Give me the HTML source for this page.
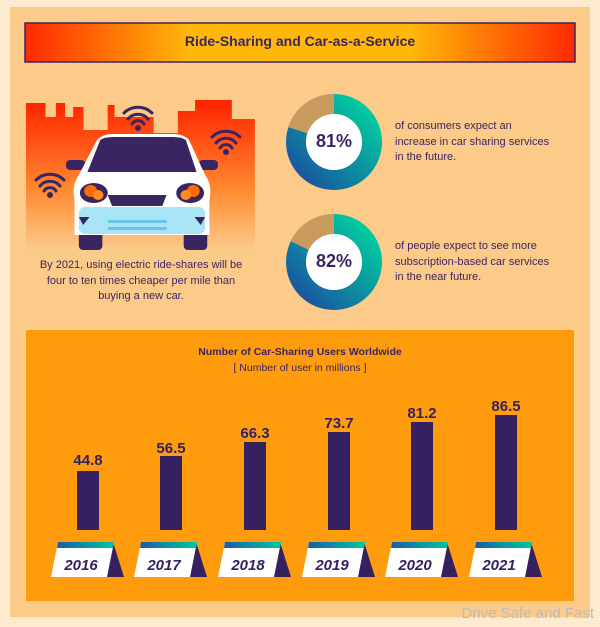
<!DOCTYPE html>
<html><head><style>
body{margin:0;width:600px;height:627px;background:#fdebd0;font-family:"Liberation Sans",sans-serif;overflow:hidden;position:relative}
.t{position:absolute;color:#3a2563}
</style></head><body>
<svg width="600" height="627" style="position:absolute;left:0;top:0">
<defs>
<linearGradient id="tb" x1="0" x2="1"><stop offset="0" stop-color="#ff2a00"/><stop offset=".3" stop-color="#ffb80a"/><stop offset=".7" stop-color="#ffb80a"/><stop offset="1" stop-color="#ff2a00"/></linearGradient>
<linearGradient id="sky" x1="0" y1="0" x2="0" y2="1"><stop offset="0" stop-color="#ff2200"/><stop offset=".6" stop-color="#ff8a30"/><stop offset="1" stop-color="#fccb8a"/></linearGradient>
<linearGradient id="dn" x1="0" y1="1" x2="1" y2="0"><stop offset="0" stop-color="#1a4fa0"/><stop offset="1" stop-color="#00d4a0"/></linearGradient>
<linearGradient id="cal2" x1="0" x2="1"><stop offset="0" stop-color="#1a5aa8"/><stop offset="1" stop-color="#00c8a0"/></linearGradient>
</defs>
<rect x="10" y="7" width="580" height="610" fill="#fccb8a"/>
<rect x="25" y="23" width="550" height="39" fill="url(#tb)" stroke="#3a2563" stroke-width="1.5"/>
<g transform="translate(26,0) scale(1.15,1) translate(-23,0)">
<path d="M23 103H40V117H49V103H57V117H64V107H73V130H94V105H100V117H134V133H155V111H170V100H202V119H222V250H23Z" fill="url(#sky)"/>
</g>
<g transform="translate(66,0) scale(1.07,1) translate(-56,0)">
<rect x="68" y="215" width="22" height="35" rx="4" fill="#3a2563"/>
<rect x="166" y="215" width="22" height="35" rx="4" fill="#3a2563"/>
<rect x="56" y="160" width="18" height="10" rx="4" fill="#3a2563"/>
<rect x="180" y="160" width="18" height="10" rx="4" fill="#3a2563"/>
<path d="M85 140Q90 134 100 134H156Q166 134 171 140L186 175Q193 185 190 200V235H64V200Q61 185 68 175Z" fill="#fff"/>
<path d="M88 140Q92 137 100 137H156Q164 137 168 140L178 172H76Z" fill="#3a2563"/>
<rect x="68" y="207" width="118" height="27" rx="6" fill="#a9e4f7"/>
<rect x="95" y="220" width="55" height="3" fill="#6cc4e8"/><rect x="95" y="227" width="55" height="3" fill="#6cc4e8"/>
<path d="M95 195H150L146 206H99Z" fill="#3a2563"/>
<path d="M68 217L78 217L72 225Z" fill="#3a2563"/><path d="M186 217L176 217L182 225Z" fill="#3a2563"/>
<ellipse cx="82" cy="193" rx="13" ry="10" fill="#3a2563"/><circle cx="79" cy="191" r="6" fill="#ff6a00"/><circle cx="86" cy="195" r="5" fill="#ff8a20"/>
<ellipse cx="172" cy="193" rx="13" ry="10" fill="#3a2563"/><circle cx="175" cy="191" r="6" fill="#ff6a00"/><circle cx="168" cy="195" r="5" fill="#ff8a20"/>
</g>
<g fill="none" stroke="#3a2563" stroke-width="3" stroke-linecap="round">
<path d="M124 113A20 20 0 0 1 152 113M128 119A13 13 0 0 1 148 119M132 124A7 7 0 0 1 144 124"/>
<path d="M212 137A20 20 0 0 1 240 137M216 143A13 13 0 0 1 236 143M220 148A7 7 0 0 1 232 148"/>
<path d="M36 180A20 20 0 0 1 64 180M40 186A13 13 0 0 1 60 186M44 191A7 7 0 0 1 56 191"/>
</g>
<circle cx="138" cy="128" r="3" fill="#3a2563"/><circle cx="226" cy="152" r="3" fill="#3a2563"/><circle cx="50" cy="195" r="3" fill="#3a2563"/>
<g transform="translate(334,142)"><circle r="38" fill="none" stroke="url(#dn)" stroke-width="20"/><path d="M0 -48A48 48 0 0 0 -45.6 -14.8L-26.6 -8.6A28 28 0 0 1 0 -28Z" fill="#c99a5e"/><circle r="28" fill="#fff"/></g>
<g transform="translate(334,262)"><circle r="38" fill="none" stroke="url(#dn)" stroke-width="20"/><path d="M0 -48A48 48 0 0 0 -43.3 -20.7L-25.3 -12.1A28 28 0 0 1 0 -28Z" fill="#c99a5e"/><circle r="28" fill="#fff"/></g>
<rect x="26" y="330" width="548" height="271" fill="#ff9c0e"/>
<g fill="#352060">
<rect x="77" y="471" width="22" height="59"/><rect x="160" y="456" width="22" height="74"/><rect x="244" y="442" width="22" height="88"/>
<rect x="328" y="432" width="22" height="98"/><rect x="411" y="422" width="22" height="108"/><rect x="495" y="415" width="22" height="115"/>
</g>
<g font-family="Liberation Sans" font-weight="bold" font-size="15" fill="#352060" text-anchor="middle">
<text x="88" y="465">44.8</text><text x="171" y="453">56.5</text><text x="255" y="438">66.3</text>
<text x="339" y="428">73.7</text><text x="422" y="418">81.2</text><text x="506" y="411">86.5</text>
</g>
<g font-family="Liberation Sans" font-weight="bold" font-style="italic" font-size="15" fill="#352060" text-anchor="middle">
<g transform="translate(51,0)"><path d="M57 542H62L73 577H55Z" fill="#352060"/><path d="M7 542H63L56 577H0Z" fill="#fff"/><path d="M7 542H63L62 548H6Z" fill="url(#cal2)"/><text x="30" y="570">2016</text></g>
<g transform="translate(134,0)"><path d="M57 542H62L73 577H55Z" fill="#352060"/><path d="M7 542H63L56 577H0Z" fill="#fff"/><path d="M7 542H63L62 548H6Z" fill="url(#cal2)"/><text x="30" y="570">2017</text></g>
<g transform="translate(218,0)"><path d="M57 542H62L73 577H55Z" fill="#352060"/><path d="M7 542H63L56 577H0Z" fill="#fff"/><path d="M7 542H63L62 548H6Z" fill="url(#cal2)"/><text x="30" y="570">2018</text></g>
<g transform="translate(302,0)"><path d="M57 542H62L73 577H55Z" fill="#352060"/><path d="M7 542H63L56 577H0Z" fill="#fff"/><path d="M7 542H63L62 548H6Z" fill="url(#cal2)"/><text x="30" y="570">2019</text></g>
<g transform="translate(385,0)"><path d="M57 542H62L73 577H55Z" fill="#352060"/><path d="M7 542H63L56 577H0Z" fill="#fff"/><path d="M7 542H63L62 548H6Z" fill="url(#cal2)"/><text x="30" y="570">2020</text></g>
<g transform="translate(469,0)"><path d="M57 542H62L73 577H55Z" fill="#352060"/><path d="M7 542H63L56 577H0Z" fill="#fff"/><path d="M7 542H63L62 548H6Z" fill="url(#cal2)"/><text x="30" y="570">2021</text></g>
</g>
</svg>
<div class="t" style="left:25px;top:33px;width:550px;text-align:center;font-weight:bold;font-size:14px">Ride-Sharing and Car-as-a-Service</div>
<div class="t" style="left:18px;top:258px;width:246px;text-align:center;font-size:11px;line-height:15.5px">By 2021, using electric ride-shares will be<br>four to ten times cheaper per mile than<br>buying a new car.</div>
<div class="t" style="left:309px;top:131px;width:50px;text-align:center;font-weight:bold;font-size:18px">81%</div>
<div class="t" style="left:309px;top:251px;width:50px;text-align:center;font-weight:bold;font-size:18px">82%</div>
<div class="t" style="left:395px;top:119px;font-size:11px;line-height:15.5px">of consumers expect an<br>increase in car sharing services<br>in the future.</div>
<div class="t" style="left:395px;top:239px;font-size:11px;line-height:15.5px">of people expect to see more<br>subscription-based car services<br>in the near future.</div>
<div class="t" style="left:26px;top:346px;width:548px;text-align:center;font-weight:bold;font-size:10.5px">Number of Car-Sharing Users Worldwide</div>
<div class="t" style="left:26px;top:362px;width:548px;text-align:center;font-size:10.5px">[ Number of user in millions ]</div>
<div style="position:absolute;right:6px;top:605px;color:#bbb;font-size:15px">Drive Safe and Fast</div>
</body></html>
